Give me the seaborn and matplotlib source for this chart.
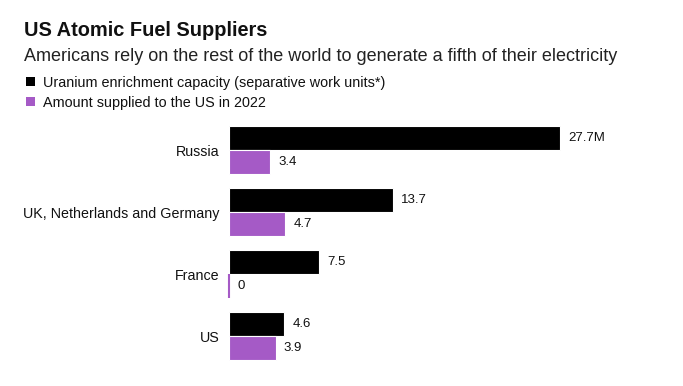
import pandas as pd
import matplotlib.pyplot as plt
import seaborn as sns
from matplotlib.patches import Rectangle

# ----------------------------------------
# Data
# ----------------------------------------

countries = ["Russia", "UK, Netherlands and Germany", "France", "US"]
capacity = [27.7, 13.7, 7.5, 4.6]
supplied = [3.4, 4.7, 0, 3.9]
capacity_labels = ["27.7M", "13.7", "7.5", "4.6"]
supplied_labels = ["3.4", "4.7", "0", "3.9"]
series_names = ["Uranium enrichment capacity (separative work units*)",
                "Amount supplied to the US in 2022"]

df = pd.DataFrame({
    "country": countries * 2,
    "value": capacity + supplied,
    "series": [series_names[0]] * 4 + [series_names[1]] * 4,
})

colors = ["#000000", "#a55ac6"]

# ----------------------------------------
# Setup
# ----------------------------------------

sns.set_style("white")
plt.rcParams["font.family"] = ["Liberation Sans", "DejaVu Sans"]
plt.rcParams["text.color"] = "#111111"
plt.rcParams["ytick.color"] = "#111111"

W, H = 683, 386
fig = plt.figure(figsize=(6.83, 3.86), dpi=100)
ax = fig.add_axes([229 / W, 1 - 367 / H, (660 - 229) / W, 248 / H])

# ----------------------------------------
# Bars
# ----------------------------------------

sns.barplot(data=df, y="country", x="value", hue="series", palette=colors,
            width=0.78, orient="h", ax=ax, legend=False, saturation=1)

# white hairline between paired bars, thin purple mark for the zero bar
for cont, c in zip(ax.containers, colors):
    for bar in cont:
        if bar.get_width() > 0:
            bar.set_edgecolor("white")
            bar.set_linewidth(0.8)
        else:
            bar.set_edgecolor(c)
            bar.set_linewidth(1.5)
            bar.set_clip_on(False)

ax.bar_label(ax.containers[0], labels=capacity_labels, padding=6, fontsize=9.5)
ax.bar_label(ax.containers[1], labels=supplied_labels, padding=6, fontsize=9.5)

ax.set_xlim(0, 36.07)
ax.set_ylim(3.5, -0.5)
ax.set_xlabel("")
ax.set_ylabel("")
ax.set_xticks([])
ax.tick_params(axis="y", length=0, pad=7, labelsize=10.3)
sns.despine(ax=ax, left=True, bottom=True)

# ----------------------------------------
# Titles & legend (font size fitted to reference text widths)
# ----------------------------------------

renderer = fig.canvas.get_renderer()


def fit_text(x, y, s, width, size, **kw):
    t = fig.text(x / W, 1 - y / H, s, fontsize=size, va="baseline", ha="left", **kw)
    w = t.get_window_extent(renderer).width
    t.set_fontsize(size * width / w)
    return t


fit_text(24, 36, "US Atomic Fuel Suppliers", 245, 14, fontweight="bold",
         color="#111111")
fit_text(24, 61,
         "Americans rely on the rest of the world to generate a fifth of their electricity",
         590, 13, color="#222222")

leg1 = fit_text(43, 87, series_names[0], 345, 10.5, color="#111111")
fig.text(43 / W, 1 - 107 / H, series_names[1], fontsize=leg1.get_fontsize(),
         va="baseline", ha="left", color="#111111")

for c, top in zip(colors, [77, 97]):
    fig.patches.append(Rectangle((26 / W, 1 - (top + 9) / H), 9 / W, 9 / H,
                                 transform=fig.transFigure, facecolor=c,
                                 edgecolor="none"))

fig.savefig("out.png", dpi=100)
